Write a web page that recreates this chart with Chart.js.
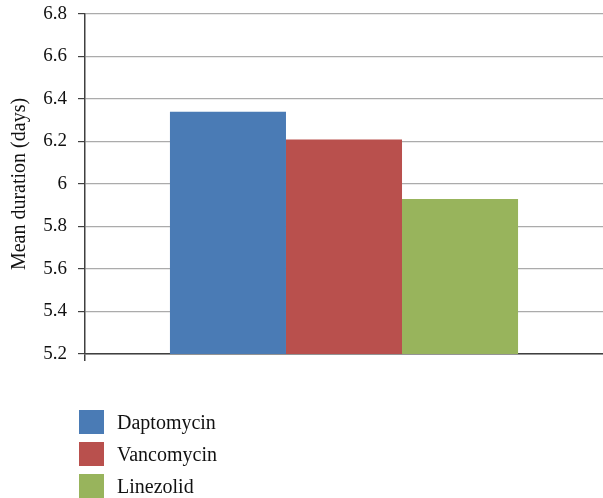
<!DOCTYPE html>
<html>
<head>
<meta charset="utf-8">
<script src="https://cdn.jsdelivr.net/npm/chart.js@4/dist/chart.umd.min.js"></script>
<style>
  html, body { margin: 0; padding: 0; background: #fff; }
  #wrap { position: relative; width: 603px; height: 498px; }
  #chart { position: absolute; left: 0; top: 0; }
  .legend-row { position: absolute; left: 79px; height: 24px; display: flex; align-items: center;
                font-family: "Liberation Serif", serif; font-size: 20px; color: #111; }
  .legend-box { width: 25px; height: 24px; margin-right: 13px; }
</style>
</head>
<body>
<div id="wrap">
  <canvas id="chart" width="603" height="498"></canvas>
</div>
<script>
// Drug names and their mean treatment duration (days)
const drugs = ['Daptomycin', 'Vancomycin', 'Linezolid'];
const meanDays = [6.34, 6.21, 5.93];
const drugColors = ['#4a7bb5', '#b9504d', '#98b45c'];
const axisTitle = 'Mean duration (days)';
const yMin = 5.2, yMax = 6.8, yStep = 0.2;

const serif = '"Liberation Serif", serif';

const datasets = drugs.map((name, i) => ({
  label: name,
  data: [meanDays[i]],
  backgroundColor: drugColors[i],
  borderWidth: 0,
  categoryPercentage: 0.672,
  barPercentage: 1
}));

new Chart(document.getElementById('chart'), {
  type: 'bar',
  data: { labels: [''], datasets },
  options: {
    responsive: false,
    animation: false,
    layout: { padding: { top: 14, right: 0, bottom: 0, left: 0 } },
    plugins: { legend: { display: false }, tooltip: { enabled: false } },
    scales: {
      x: {
        afterFit: s => { s.height = 144; s.paddingLeft = 0; s.paddingRight = 0; },
        ticks: { display: false },
        grid: {
          offset: true, drawOnChartArea: false, tickLength: 7, lineWidth: 1.5,
          color: c => (c.index === 0 ? '#404040' : 'rgba(0,0,0,0)')
        },
        border: { color: '#404040', width: 1.5 }
      },
      y: {
        min: yMin, max: yMax,
        afterFit: s => { s.width = 85; s.paddingTop = 0; s.paddingBottom = 0; },
        ticks: {
          stepSize: yStep,
          padding: 11,
          color: '#111',
          font: { family: serif, size: 19 },
          callback: v => String(+Number(v).toFixed(1))
        },
        grid: { color: '#ababab', lineWidth: 1.2, tickLength: 7, tickColor: '#404040' },
        border: { color: '#404040', width: 1.5 },
        title: {
          display: true, text: axisTitle, color: '#111',
          font: { family: serif, size: 20 },
          padding: { top: 8, bottom: 0 }
        }
      }
    }
  }
});

// Legend listing each drug with its colour swatch
const wrap = document.getElementById('wrap');
drugs.forEach((name, i) => {
  const row = document.createElement('div');
  row.className = 'legend-row';
  row.style.top = (410 + 32 * i) + 'px';
  const box = document.createElement('div');
  box.className = 'legend-box';
  box.style.background = drugColors[i];
  const txt = document.createElement('span');
  txt.textContent = name;
  row.appendChild(box);
  row.appendChild(txt);
  wrap.appendChild(row);
});
</script>
</body>
</html>
